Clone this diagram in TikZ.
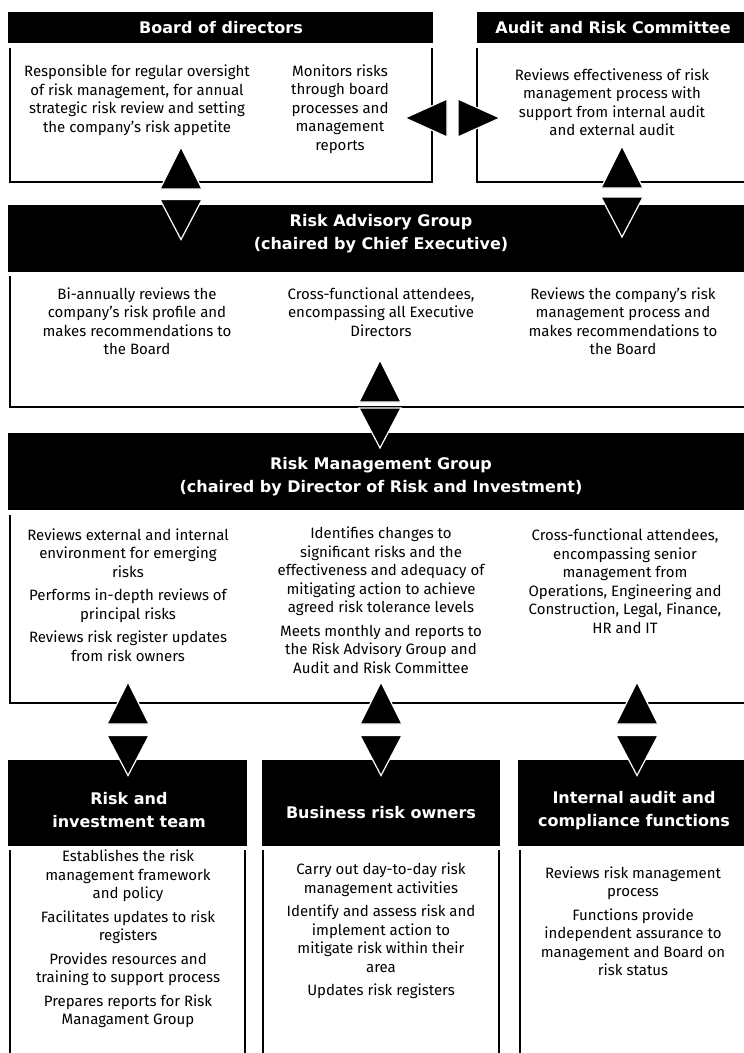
\documentclass[tikz,border=0pt]{standalone}
\usepackage{fontspec}
\setmainfont{Fira Sans}
\newfontfamily\headff{DejaVu Sans}
\newcommand{\bodyfont}{\rmfamily\fontsize{15}{18.5}\selectfont}
\newcommand{\headfont}{\headff\bfseries\fontsize{16}{23}\selectfont}

% triangles, placed by their centre
\newcommand{\uptri}[1]{\filldraw[tri] (#1) ++(-21,21) -- ++(42,0) -- ++(-21,-42) -- cycle;}
\newcommand{\downtri}[1]{\filldraw[tri] (#1) ++(-21,-20) -- ++(42,0) -- ++(-21,40) -- cycle;}
\newcommand{\lefttri}[1]{\filldraw[tri] (#1) ++(21,-19) -- ++(0,38) -- ++(-42,-19) -- cycle;}
\newcommand{\righttri}[1]{\filldraw[tri] (#1) ++(-21,-19) -- ++(0,38) -- ++(42,-19) -- cycle;}

\begin{document}
\begin{tikzpicture}[x=1pt, y=-1pt,
    frame/.style={line width=1.6pt},
    tri/.style={fill=black, draw=white, line width=1.2pt},
    htxt/.style={text=white, align=center, inner sep=0pt, font=\headfont},
    txt/.style={align=center, inner sep=0pt, font=\bodyfont}]

    \useasboundingbox (0,0) rectangle (744,1053);

    % Board of directors and Audit and Risk Committee
    \fill (8,12) rectangle (433,43);
    \fill (477,12) rectangle (750,43);
    \node[htxt] (board) at (221,27.5) {Board of directors};
    \node[htxt] (audit) at (613,27.5) {Audit and Risk Committee};
    \draw[frame] (10,48) |- (432,182) -- (432,48);
    \draw[frame] (477,48) |- (750,182);
    \node[txt] (boardl) at (137,100) {Responsible for regular oversight\\ of risk management, for annual\\ strategic risk review and setting\\ the company’s risk appetite};
    \node[txt] (boardm) at (340,109) {Monitors risks\\ through board\\ processes and\\ management\\ reports};
    \node[txt] (auditt) at (612,102) {Reviews effectiveness of risk\\ management process with\\ support from internal audit\\ and external audit};

    % Risk Advisory Group
    \fill (8,205) rectangle (750,272);
    \node[htxt] (rag) at (381,233.5) {Risk Advisory Group\\ (chaired by Chief Executive)};
    \draw[frame] (10,276) |- (750,407);
    \node[txt] (ragl) at (137,321) {Bi-annually reviews the\\ company’s risk profile and\\ makes recommendations to\\ the Board};
    \node[txt] (ragm) at (381,312) {Cross-functional attendees,\\ encompassing all Executive\\ Directors};
    \node[txt] (ragr) at (623,321) {Reviews the company’s risk\\ management process and\\ makes recommendations to\\ the Board};

    % Risk Management Group
    \fill (8,433) rectangle (750,510);
    \node[htxt] (rmg) at (381,476.5) {Risk Management Group\\ (chaired by Director of Risk and Investment)};
    \draw[frame] (10,515) |- (750,703);
    \node[txt] (rmgl) at (128,595) {Reviews external and internal\\ environment for emerging\\ risks\\[5pt] Performs in-depth reviews of\\ principal risks\\[5pt] Reviews risk register updates\\ from risk owners};
    \node[txt] (rmgm) at (381,600) {Identifies changes to\\ significant risks and the\\ effectiveness and adequacy of\\ mitigating action to achieve\\ agreed risk tolerance levels\\[5pt] Meets monthly and reports to\\ the Risk Advisory Group and\\ Audit and Risk Committee};
    \node[txt] (rmgr) at (625,581) {Cross-functional attendees,\\ encompassing senior\\ management from\\ Operations, Engineering and\\ Construction, Legal, Finance,\\ HR and IT};

    % Teams
    \fill (8,760) rectangle (247,846);
    \fill (262,760) rectangle (500,846);
    \fill (518,760) rectangle (750,846);
    \node[htxt] (rit) at (129,810.5) {Risk and\\ investment team};
    \node[htxt] (bro) at (381,813) {Business risk owners};
    \node[htxt] (iac) at (634,810.5) {Internal audit and\\ compliance functions};
    \draw[frame] (10,850) -- (10,1060);
    \draw[frame] (245,850) -- (245,1060);
    \draw[frame] (263,850) -- (263,1060);
    \draw[frame] (499,850) -- (499,1060);
    \draw[frame] (520,850) -- (520,1060);
    \node[txt] (ritt) at (128,939) {Establishes the risk\\ management framework\\ and policy\\[5pt] Facilitates updates to risk\\ registers\\[5pt] Provides resources and\\ training to support process\\[5pt] Prepares reports for Risk\\ Managament Group};
    \node[txt] (brot) at (381,931) {Carry out day-to-day risk\\ management activities\\[5pt] Identify and assess risk and\\ implement action to\\ mitigate risk within their\\ area\\[5pt] Updates risk registers};
    \node[txt] (iact) at (633,921) {Reviews risk management\\ process\\[5pt] Functions provide\\ independent assurance to\\ management and Board on\\ risk status};

    % Arrow heads
    \coordinate (bu) at (181,168);
    \coordinate (bd) at (181,219.5);
    \coordinate (au) at (622,167);
    \coordinate (ad) at (622,217);
    \coordinate (bl) at (426,118);
    \coordinate (ar) at (479,118);
    \coordinate (mu) at (380,381);
    \coordinate (md) at (380,428);
    \uptri{bu} \downtri{bd}
    \uptri{au} \downtri{ad}
    \lefttri{bl} \righttri{ar}
    \uptri{mu} \downtri{md}
    \foreach \x/\n in {128/l, 381/m, 637/r} {
        \coordinate (t\n u) at (\x,703);
        \coordinate (t\n d) at (\x,755.5);
        \uptri{t\n u} \downtri{t\n d}
    }
\end{tikzpicture}
\end{document}
